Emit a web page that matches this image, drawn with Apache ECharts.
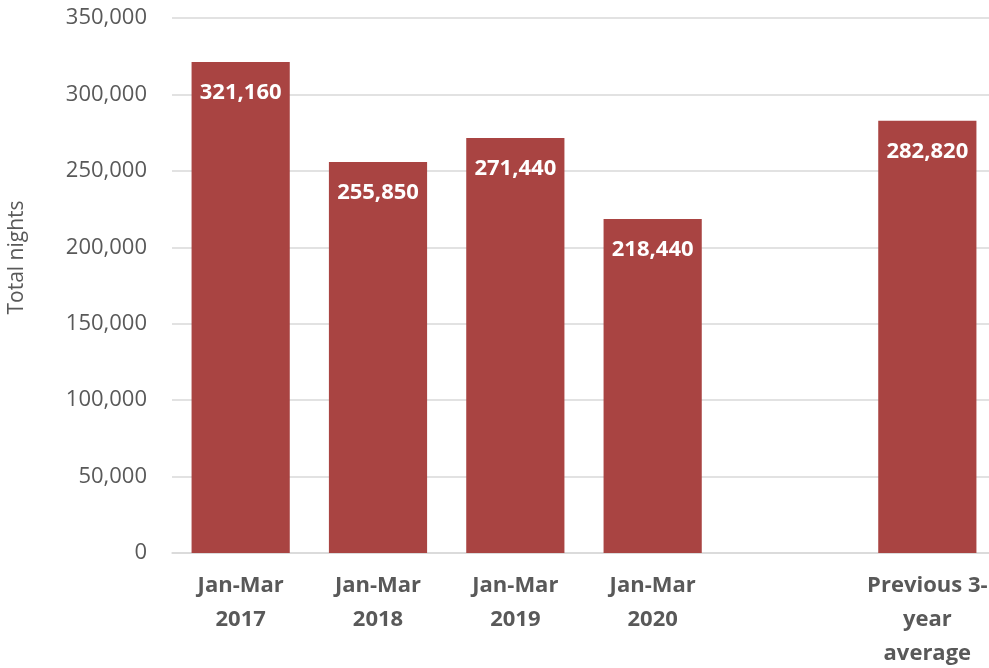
<!DOCTYPE html>
<html>
<head>
<meta charset="utf-8">
<script src="https://cdn.jsdelivr.net/npm/echarts@6/dist/echarts.min.js"></script>
<style>
  html, body { margin: 0; padding: 0; background: #fff; overflow: hidden; }
  #chart { width: 989px; height: 668px; }
</style>
</head>
<body>
<div id="chart"></div>
<script>
// Quarterly total nights, with an empty slot before the 3-year average
const categories = ['Jan-Mar\n2017', 'Jan-Mar\n2018', 'Jan-Mar\n2019', 'Jan-Mar\n2020', '', 'Previous 3-\nyear\naverage'];
const totalNights = [321160, 255850, 271440, 218440, null, 282820];
const yTicks = { min: 0, max: 350000, interval: 50000 };

const fontFamily = '"Open Sans", "Liberation Sans", sans-serif';
const chart = echarts.init(document.getElementById('chart'));

chart.setOption({
  animation: false,
  grid: {
    left: 172, right: -7, top: 18, bottom: 115,
    containLabel: false, outerBoundsMode: 'none'
  },
  xAxis: {
    type: 'category',
    data: categories,
    axisLine: { lineStyle: { color: '#d9d9d9', width: 1.5 } },
    axisTick: { show: false },
    axisLabel: {
      color: '#595959', fontWeight: 'bold', fontSize: 22, fontFamily,
      lineHeight: 34, margin: 16, interval: 0
    }
  },
  yAxis: {
    type: 'value',
    min: yTicks.min, max: yTicks.max, interval: yTicks.interval,
    name: 'Total nights',
    nameLocation: 'middle',
    nameGap: 144,
    nameTextStyle: { color: '#595959', fontSize: 21, fontFamily, padding: [0, 0, 0, 56] },
    axisLine: { show: false },
    axisTick: { show: false },
    axisLabel: {
      color: '#595959', fontSize: 22, fontFamily, margin: 25,
      formatter: v => v.toLocaleString('en-US')
    },
    splitLine: { lineStyle: { color: '#d9d9d9', width: 1.5 } }
  },
  series: [{
    type: 'bar',
    data: totalNights,
    barCategoryGap: '28.5%',
    itemStyle: { color: '#a94442' },
    label: {
      show: true,
      position: 'insideTop',
      distance: 20,
      color: '#fff',
      fontWeight: 'bold',
      fontSize: 22,
      fontFamily,
      formatter: p => p.value == null ? '' : p.value.toLocaleString('en-US')
    }
  }]
});
</script>
</body>
</html>
